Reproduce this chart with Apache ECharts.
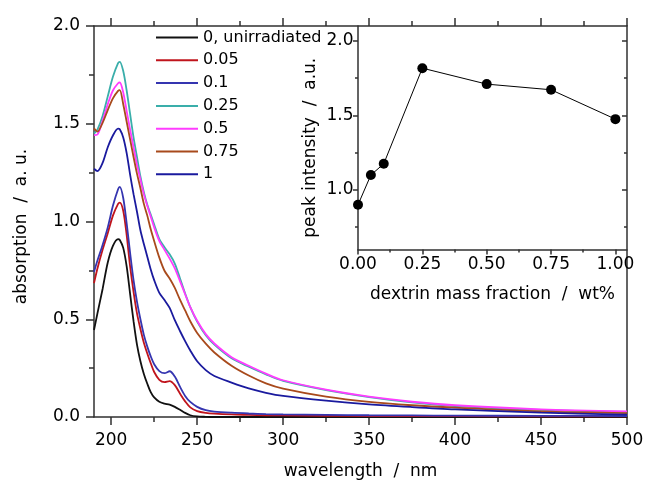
<!DOCTYPE html>
<html>
<head>
<meta charset="utf-8">
<script src="https://cdn.jsdelivr.net/npm/echarts@6/dist/echarts.min.js"></script>
<style>
  html, body { margin: 0; padding: 0; background: #fff; }
  #chart { width: 645px; height: 481px; }
</style>
</head>
<body>
<div id="chart"></div>
<script>
// UV absorption spectra (wavelength in nm) for each dextrin mass fraction
const wavelength = [190,192,195,198,201,204,205,207,209,211,213,215,217,219,221,223,225,228,231,234,237,240,243,246,250,255,260,270,280,290,300,325,350,375,400,450,500];

const abs0    = [0.445,0.53,0.655,0.79,0.875,0.91,0.905,0.865,0.77,0.63,0.49,0.37,0.285,0.22,0.17,0.127,0.1,0.078,0.069,0.063,0.052,0.037,0.021,0.009,0.003,0.001,0,0,0,0,0,0,0,0,0,0,0];
const abs005  = [0.685,0.76,0.855,0.94,1.03,1.09,1.097,1.055,0.93,0.77,0.64,0.53,0.45,0.38,0.325,0.275,0.23,0.19,0.178,0.183,0.163,0.12,0.08,0.049,0.03,0.021,0.017,0.013,0.011,0.009,0.008,0.006,0.005,0.005,0.004,0.003,0.003];
const abs01   = [0.742,0.8,0.88,0.97,1.08,1.165,1.177,1.12,0.99,0.84,0.7,0.59,0.5,0.42,0.36,0.31,0.27,0.235,0.224,0.234,0.207,0.155,0.108,0.077,0.052,0.035,0.028,0.022,0.018,0.015,0.013,0.011,0.009,0.008,0.007,0.006,0.005];
const abs025  = [1.45,1.47,1.54,1.64,1.74,1.81,1.817,1.77,1.67,1.55,1.43,1.33,1.23,1.15,1.085,1.035,0.985,0.91,0.868,0.832,0.785,0.71,0.632,0.562,0.488,0.418,0.37,0.3,0.257,0.218,0.185,0.138,0.102,0.075,0.056,0.036,0.026];
const abs05   = [1.442,1.445,1.515,1.6,1.67,1.707,1.711,1.66,1.565,1.47,1.38,1.29,1.215,1.14,1.08,1.025,0.97,0.9,0.855,0.81,0.76,0.695,0.628,0.562,0.492,0.424,0.376,0.306,0.262,0.222,0.188,0.14,0.104,0.078,0.06,0.039,0.029];
const abs075  = [1.476,1.46,1.505,1.57,1.63,1.668,1.672,1.6,1.51,1.42,1.33,1.245,1.17,1.09,1.03,0.96,0.9,0.815,0.748,0.708,0.66,0.6,0.545,0.49,0.43,0.375,0.33,0.262,0.212,0.172,0.145,0.104,0.077,0.06,0.048,0.029,0.02];
const abs1    = [1.27,1.258,1.3,1.38,1.44,1.475,1.472,1.43,1.35,1.24,1.14,1.05,0.955,0.885,0.82,0.755,0.7,0.635,0.598,0.558,0.495,0.44,0.388,0.34,0.285,0.24,0.21,0.176,0.146,0.124,0.108,0.084,0.065,0.051,0.039,0.022,0.012];

const seriesNames  = ['0, unirradiated','0.05','0.1','0.25','0.5','0.75','1'];
const seriesColors = ['#111111','#c0141c','#3535b0','#3aaeaa','#ff3cff','#a84a1c','#1a1a9e'];
const spectra = [abs0, abs005, abs01, abs025, abs05, abs075, abs1];

// inset: peak intensity versus dextrin mass fraction
const dextrinFraction = [0, 0.05, 0.1, 0.25, 0.5, 0.75, 1.0];
const peakIntensity   = [0.90, 1.10, 1.175, 1.817, 1.71, 1.672, 1.475];

// tick positions
const wlMajor = [200,250,300,350,400,450,500];
const wlMinor = [225,275,325,375,425,475];
const fracMajor = [0, 0.25, 0.5, 0.75, 1.0];
const fracMinor = [0.125, 0.375, 0.625, 0.875];
const peakMajor = [1.0, 1.5, 2.0];
const peakMinor = [0.75, 1.25, 1.75];

const FONT = 'DejaVu Sans';
const AXIS = '#303030';
const lineStyleAxis = { color: AXIS, width: 1.5 };

function tickAxis(base) {
  return Object.assign({
    splitLine: { show: false },
    axisLine: { show: false, onZero: false },
    axisLabel: { show: false },
    axisTick: { show: false }
  }, base);
}

const option = {
  backgroundColor: '#ffffff',
  animation: false,
  textStyle: { fontFamily: FONT },
  grid: [
    { left: 94, top: 26, right: 18, bottom: 64, outerBoundsMode: 'none' },
    { left: 358, top: 26, right: 18, bottom: 231.5, outerBoundsMode: 'none' }
  ],
  legend: {
    orient: 'vertical',
    left: 150,
    top: 24.5,
    itemWidth: 42,
    itemHeight: 14,
    itemGap: 6.8,
    data: seriesNames,
    itemStyle: { opacity: 0 },
    textStyle: { fontFamily: FONT, fontSize: 16, color: '#000' }
  },
  xAxis: [
    // main bottom axis
    tickAxis({
      type: 'value', gridIndex: 0, min: 190, max: 500, position: 'bottom',
      axisLine: { show: true, onZero: false, lineStyle: lineStyleAxis },
      axisTick: { show: true, length: 8, lineStyle: lineStyleAxis, customValues: wlMajor },
      axisLabel: { show: true, customValues: wlMajor, margin: 15, fontSize: 17, color: '#000', fontFamily: FONT },
      name: 'wavelength  /  nm', nameLocation: 'middle', nameGap: 46,
      nameTextStyle: { fontSize: 17, color: '#000', fontFamily: FONT }
    }),
    tickAxis({
      type: 'value', gridIndex: 0, min: 190, max: 500, position: 'bottom',
      axisTick: { show: true, length: 5, lineStyle: lineStyleAxis, customValues: wlMinor }
    }),
    // main top frame
    tickAxis({
      type: 'value', gridIndex: 0, min: 190, max: 500, position: 'top',
      axisLine: { show: true, onZero: false, lineStyle: lineStyleAxis },
      axisTick: { show: true, length: 8, lineStyle: lineStyleAxis, customValues: wlMajor }
    }),
    tickAxis({
      type: 'value', gridIndex: 0, min: 190, max: 500, position: 'top',
      axisTick: { show: true, length: 5, lineStyle: lineStyleAxis, customValues: wlMinor }
    }),
    // inset bottom axis
    tickAxis({
      type: 'value', gridIndex: 1, min: 0, max: 1.045, position: 'bottom',
      axisLine: { show: true, onZero: false, lineStyle: lineStyleAxis },
      axisTick: { show: true, length: 5, lineStyle: lineStyleAxis, customValues: fracMajor },
      axisLabel: { show: true, customValues: fracMajor, margin: 7, fontSize: 17, color: '#000', fontFamily: FONT,
                   formatter: v => Number(v).toFixed(2) },
      name: 'dextrin mass fraction  /  wt%', nameLocation: 'middle', nameGap: 37,
      nameTextStyle: { fontSize: 17, color: '#000', fontFamily: FONT }
    }),
    tickAxis({
      type: 'value', gridIndex: 1, min: 0, max: 1.045, position: 'bottom',
      axisTick: { show: true, length: 3, lineStyle: lineStyleAxis, customValues: fracMinor }
    })
  ],
  yAxis: [
    // main left axis
    {
      type: 'value', gridIndex: 0, min: 0, max: 2, interval: 0.5, position: 'left',
      splitLine: { show: false },
      axisLine: { show: true, onZero: false, lineStyle: lineStyleAxis },
      axisTick: { show: true, length: 8, lineStyle: lineStyleAxis },
      minorTick: { show: true, splitNumber: 2, length: 5, lineStyle: lineStyleAxis },
      axisLabel: { margin: 14, fontSize: 17, color: '#000', fontFamily: FONT, formatter: v => v.toFixed(1) },
      name: 'absorption  /  a. u.', nameLocation: 'middle', nameGap: 64,
      nameTextStyle: { fontSize: 17, color: '#000', fontFamily: FONT, padding: [0, 10, 0, 0] }
    },
    // main right frame
    tickAxis({
      type: 'value', gridIndex: 0, min: 0, max: 2, position: 'right',
      axisLine: { show: true, onZero: false, lineStyle: lineStyleAxis }
    }),
    // inset left axis
    tickAxis({
      type: 'value', gridIndex: 1, min: 0.6, max: 2.1, position: 'left',
      axisLine: { show: true, onZero: false, lineStyle: lineStyleAxis },
      axisTick: { show: true, length: 5, lineStyle: lineStyleAxis, customValues: peakMajor },
      axisLabel: { show: true, customValues: peakMajor, margin: 4.5, fontSize: 17, color: '#000', fontFamily: FONT,
                   formatter: v => Number(v).toFixed(1) },
      name: 'peak intensity  /  a.u.', nameLocation: 'middle', nameGap: 39,
      nameTextStyle: { fontSize: 17, color: '#000', fontFamily: FONT, padding: [0, 20, 0, 0] }
    }),
    tickAxis({
      type: 'value', gridIndex: 1, min: 0.6, max: 2.1, position: 'left',
      axisTick: { show: true, length: 3, lineStyle: lineStyleAxis, customValues: peakMinor }
    }),
    // inset right mirror ticks
    tickAxis({
      type: 'value', gridIndex: 1, min: 0.6, max: 2.1, position: 'right',
      axisTick: { show: true, inside: true, length: 5, lineStyle: lineStyleAxis, customValues: peakMajor }
    }),
    tickAxis({
      type: 'value', gridIndex: 1, min: 0.6, max: 2.1, position: 'right',
      axisTick: { show: true, inside: true, length: 3, lineStyle: lineStyleAxis, customValues: peakMinor }
    })
  ],
  series: spectra.map((vals, i) => ({
    name: seriesNames[i],
    type: 'line',
    xAxisIndex: 0,
    yAxisIndex: 0,
    data: wavelength.map((w, j) => [w, vals[j]]),
    smooth: 0.3,
    symbol: 'none',
    color: seriesColors[i],
    lineStyle: { color: seriesColors[i], width: 1.8 },
    z: 2
  })).concat([{
    name: 'peak',
    type: 'line',
    xAxisIndex: 4,
    yAxisIndex: 2,
    data: dextrinFraction.map((f, j) => [f, peakIntensity[j]]),
    symbol: 'circle',
    symbolSize: 10,
    showSymbol: true,
    color: '#000',
    itemStyle: { color: '#000' },
    lineStyle: { color: '#000', width: 1 },
    z: 3
  }])
};

const chart = echarts.init(document.getElementById('chart'), null, { renderer: 'canvas' });
chart.setOption(option);
</script>
</body>
</html>
